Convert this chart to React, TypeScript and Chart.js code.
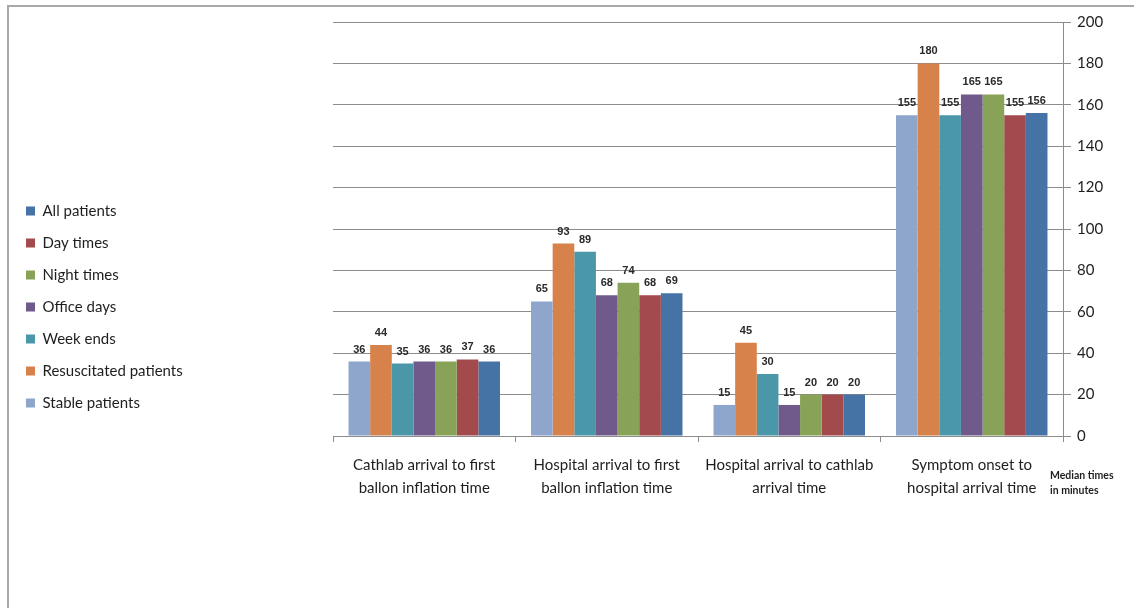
import React, { useEffect, useRef } from 'react';
import { Chart, registerables } from 'chart.js';

Chart.register(...registerables);

const categories = [
  ['Cathlab arrival to first', 'ballon inflation time'],
  ['Hospital arrival to first', 'ballon inflation time'],
  ['Hospital arrival to cathlab', 'arrival time'],
  ['Symptom onset to', 'hospital arrival time'],
];

const seriesNames = [
  'Stable patients',
  'Resuscitated patients',
  'Week ends',
  'Office days',
  'Night times',
  'Day times',
  'All patients',
];

const stablePatients = [36, 65, 15, 155];
const resuscitatedPatients = [44, 93, 45, 180];
const weekEnds = [35, 89, 30, 155];
const officeDays = [36, 68, 15, 165];
const nightTimes = [36, 74, 20, 165];
const dayTimes = [37, 68, 20, 155];
const allPatients = [36, 69, 20, 156];

const seriesColors = ['#8EA6CC', '#D6824A', '#4A97A9', '#6F5A8B', '#88A257', '#A34A4C', '#4673A6'];

const yMin = 0;
const yMax = 200;
const yStep = 20;

const axisNote = ['Median times', 'in minutes'];

const GRID = '#8c8c8c';
const TEXT = '#1e1e1e';

const dataLabelPlugin = {
  id: 'dataLabels',
  afterDatasetsDraw(chart: any) {
    const ctx = chart.ctx;
    ctx.save();
    ctx.font = "bold 11px 'Liberation Sans', Arial, sans-serif";
    ctx.fillStyle = '#2a2a2a';
    ctx.textAlign = 'center';
    ctx.textBaseline = 'middle';
    chart.data.datasets.forEach((ds: any, i: number) => {
      const meta = chart.getDatasetMeta(i);
      meta.data.forEach((el: any, j: number) => {
        ctx.fillText(String(ds.data[j]), el.x, el.y - 12);
      });
    });
    ctx.restore();
  },
};

const axisNotePlugin = {
  id: 'axisNote',
  afterDraw(chart: any) {
    const ctx = chart.ctx;
    const area = chart.chartArea;
    ctx.save();
    ctx.font = "bold 10.5px Lato, 'Liberation Sans', sans-serif";
    ctx.fillStyle = TEXT;
    ctx.textAlign = 'left';
    ctx.textBaseline = 'middle';
    axisNote.forEach((line, i) => {
      ctx.fillText(line, area.right - 13, area.bottom + 40 + i * 14.5);
    });
    ctx.restore();
  },
};

export default function App() {
  const canvasRef = useRef<HTMLCanvasElement | null>(null);

  useEffect(() => {
    if (!canvasRef.current) return;
    const seriesData = [stablePatients, resuscitatedPatients, weekEnds, officeDays, nightTimes, dayTimes, allPatients];
    const chart = new Chart(canvasRef.current, {
      type: 'bar',
      data: {
        labels: categories,
        datasets: seriesNames.map((name, i) => ({
          label: name,
          data: seriesData[i],
          backgroundColor: seriesColors[i],
          borderWidth: 0,
          barPercentage: 1,
          categoryPercentage: 0.83,
          yAxisID: 'y',
        })),
      },
      options: {
        animation: false,
        responsive: false,
        maintainAspectRatio: false,
        layout: { padding: { top: 15, right: 0, bottom: 0, left: 0 } },
        plugins: {
          legend: {
            position: 'left',
            align: 'center',
            reverse: true,
            labels: {
              boxWidth: 9,
              boxHeight: 9,
              padding: 17,
              color: TEXT,
              font: { family: 'Lato', size: 15 },
            },
          },
          tooltip: { enabled: false },
        },
        scales: {
          x: {
            grid: {
              drawOnChartArea: false,
              drawTicks: true,
              tickLength: 6,
              color: GRID,
              offset: true,
            },
            border: { color: GRID },
            ticks: {
              color: TEXT,
              font: { family: 'Lato', size: 15, lineHeight: 1.5 },
              padding: 12,
              maxRotation: 0,
              autoSkip: false,
            },
            afterFit: (s: any) => {
              s.height = 156;
            },
          },
          y: {
            position: 'right',
            min: yMin,
            max: yMax,
            ticks: {
              stepSize: yStep,
              color: TEXT,
              font: { family: 'Lato', size: 15 },
              padding: 6,
            },
            grid: { color: GRID, tickLength: 8, drawTicks: true },
            border: { color: GRID },
            afterFit: (s: any) => {
              s.width = 71;
            },
          },
          yl: {
            position: 'left',
            display: true,
            ticks: { display: false },
            grid: { display: false },
            border: { display: false },
            afterFit: (s: any) => {
              const lw = s.chart.legend ? s.chart.legend.width : 0;
              s.width = Math.max(0, 324 - lw);
            },
          },
        },
      },
      plugins: [dataLabelPlugin, axisNotePlugin],
    } as any);
    return () => chart.destroy();
  }, []);

  return (
    <div
      style={{
        position: 'fixed',
        left: 0,
        top: 0,
        width: 1134,
        height: 608,
        overflow: 'hidden',
        background: '#ffffff',
      }}
    >
      <div
        style={{
          position: 'absolute',
          left: 7,
          top: 5,
          width: 1140,
          height: 603,
          borderTop: '2px solid #a8a8a8',
          borderLeft: '2px solid #a8a8a8',
          boxSizing: 'border-box',
        }}
      />
      <canvas
        ref={canvasRef}
        width={1125}
        height={585}
        style={{ position: 'absolute', left: 9, top: 7, width: 1125, height: 585 }}
      />
    </div>
  );
}
